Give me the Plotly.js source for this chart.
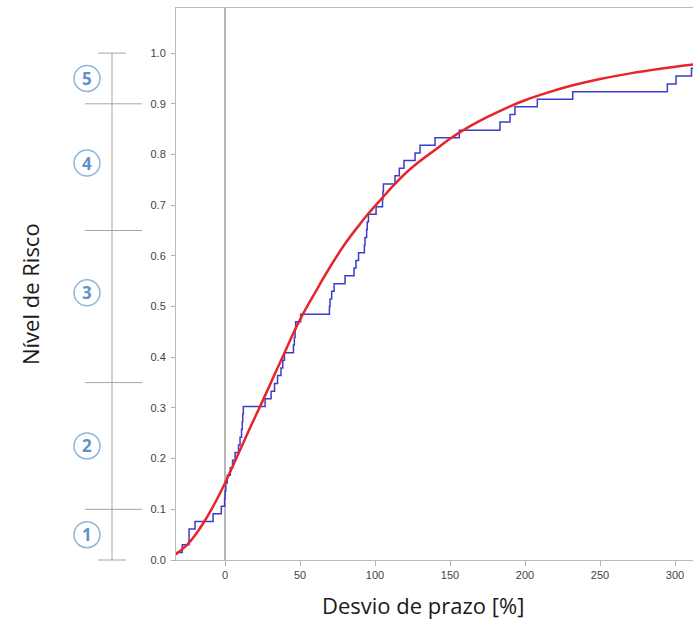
<!DOCTYPE html>
<html>
<head>
<meta charset="utf-8">
<script src="https://cdn.plot.ly/plotly-3.0.1.min.js"></script>
<style>
  html, body { margin: 0; padding: 0; background: #fff; }
  #chart { width: 693px; height: 622px; }
</style>
</head>
<body>
<div id="chart"></div>
<script>
// Empirical cumulative distribution of schedule deviation (step points: x where the level jumps, level after jump)
const ecdfX = [-33, -28.5, -24, -20, -8, -2.5, -0.3, 0, 0.5, 1.5, 3.5, 5, 6.7, 9, 10, 11, 11.5, 11.8, 12.2,
  26.7, 30.7, 33, 35, 37.3, 38.5, 39.6, 45.6, 46.2, 46.7, 47.1, 50.4,
  69.6, 70, 71.1, 72.7, 80, 86, 87.3, 89, 92.9, 93.3, 94.4, 94.8, 95.6, 100.7,
  105, 105.3, 105.6, 113.3, 116.2, 119.3, 126.7, 130, 140, 156.2, 183.3, 190, 193.3,
  208.2, 231.8, 294.9, 300.7, 311, 313];
const ecdfY = [0.015, 0.030, 0.061, 0.076, 0.091, 0.106, 0.121, 0.136, 0.152, 0.167, 0.182, 0.197, 0.212, 0.227, 0.242, 0.258, 0.273, 0.288, 0.303,
  0.318, 0.333, 0.348, 0.364, 0.379, 0.394, 0.409, 0.424, 0.439, 0.455, 0.470, 0.485,
  0.500, 0.515, 0.530, 0.545, 0.561, 0.576, 0.591, 0.606, 0.621, 0.636, 0.652, 0.667, 0.682, 0.697,
  0.712, 0.727, 0.742, 0.758, 0.773, 0.788, 0.803, 0.818, 0.833, 0.848, 0.864, 0.879, 0.894,
  0.909, 0.924, 0.939, 0.955, 0.970, 0.970];

// Fitted distribution curve
const fitX = [-33, -25, -20, -14, -7, 0, 5, 10, 17, 24, 30, 35, 40, 45, 51, 58, 63, 70, 80, 90, 96, 105, 112, 120,
  130, 140, 150, 160, 175, 190, 200, 215, 230, 250, 272, 290, 313];
const fitY = [0.011, 0.031, 0.049, 0.075, 0.111, 0.152, 0.184, 0.217, 0.263, 0.307, 0.346, 0.379, 0.411, 0.444, 0.480, 0.517, 0.543, 0.578, 0.624, 0.663, 0.685, 0.715, 0.738, 0.762,
  0.787, 0.809, 0.831, 0.850, 0.874, 0.895, 0.907, 0.922, 0.935, 0.949, 0.961, 0.969, 0.978];

// Risk level bands on the probability scale
const riskBounds = [0.0, 0.1, 0.35, 0.65, 0.9, 1.0];
const riskLabels = ['1', '2', '3', '4', '5'];
const riskLabelY = [0.05, 0.225, 0.527, 0.783, 0.95];

const yTicks = [0, 0.1, 0.2, 0.3, 0.4, 0.5, 0.6, 0.7, 0.8, 0.9, 1.0];
const xTicks = [0, 50, 100, 150, 200, 250, 300];

const W = 693, H = 622;
const M = { l: 176, r: 0, t: 8, b: 62 };
const plotW = W - M.l - M.r;
const plotH = H - M.t - M.b;
const yRange = [0, 1.089];
const xRange = [-32.7, 312];

// helpers: pixel column -> paper x, probability -> paper y, pixel row -> paper y
const px = p => (p - M.l) / plotW;
const py = v => (v - yRange[0]) / (yRange[1] - yRange[0]);
const pr = r => (H - M.b - r) / plotH;

const shapes = [];
const annotations = [];
const scaleColor = '#a6a6a6';

// vertical spine of the risk scale
shapes.push({ type: 'line', xref: 'paper', yref: 'paper', x0: px(112), x1: px(112),
  y0: py(riskBounds[0]), y1: py(riskBounds[riskBounds.length - 1]),
  line: { color: scaleColor, width: 1 } });
// band boundaries
riskBounds.forEach((b, i) => {
  const outer = (i === 0 || i === riskBounds.length - 1);
  const a = outer ? 98 : 85, c = outer ? 126 : 142;
  shapes.push({ type: 'line', xref: 'paper', yref: 'paper', x0: px(a), x1: px(c),
    y0: py(b), y1: py(b), line: { color: scaleColor, width: 1 } });
});
// circled level numbers
riskLabels.forEach((t, i) => {
  shapes.push({ type: 'circle', xref: 'paper', yref: 'paper',
    xsizemode: 'pixel', ysizemode: 'pixel', xanchor: px(87), yanchor: py(riskLabelY[i]),
    x0: -13, x1: 13, y0: -13, y1: 13,
    line: { color: '#8db6dc', width: 1.5 }, fillcolor: 'rgba(0,0,0,0)' });
  annotations.push({ xref: 'paper', yref: 'paper', x: px(87), y: py(riskLabelY[i]),
    text: '<b>' + t + '</b>', showarrow: false, xanchor: 'center', yanchor: 'middle',
    font: { family: 'Open Sans, Arial, sans-serif', size: 17, color: '#5f93c6' } });
});

// axis titles
annotations.push({ xref: 'paper', yref: 'paper', x: px(30), y: pr(294),
  text: 'Nível de Risco', textangle: -90, showarrow: false, xanchor: 'center', yanchor: 'middle',
  font: { family: 'Open Sans, sans-serif', size: 22, color: '#1a1a1a' } });
annotations.push({ xref: 'paper', yref: 'paper', x: px(423), y: pr(605),
  text: 'Desvio de prazo [%]', showarrow: false, xanchor: 'center', yanchor: 'middle',
  borderpad: 0,
  font: { family: 'Open Sans, sans-serif', size: 22, color: '#1a1a1a' } });

const traces = [
  { x: ecdfX, y: ecdfY, type: 'scatter', mode: 'lines',
    line: { shape: 'hv', color: '#3c3cc8', width: 1.5 }, hoverinfo: 'skip' },
  { x: fitX, y: fitY, type: 'scatter', mode: 'lines',
    line: { shape: 'spline', smoothing: 1, color: '#e8242c', width: 2.5 }, hoverinfo: 'skip' }
];

const tickFont = { family: 'Arial, Liberation Sans, sans-serif', size: 11, color: '#444' };

const layout = {
  width: W, height: H,
  margin: M,
  paper_bgcolor: '#fff', plot_bgcolor: '#fff',
  showlegend: false,
  xaxis: {
    range: xRange, tickvals: xTicks, ticktext: xTicks.map(String),
    ticks: 'outside', ticklen: 5, tickcolor: '#b0b0b0', tickfont: tickFont,
    showline: true, linecolor: '#bbbbbb', linewidth: 1, mirror: true,
    showgrid: false, zeroline: true, zerolinecolor: '#b8b8b8', zerolinewidth: 1.5,
    fixedrange: true
  },
  yaxis: {
    range: yRange, tickvals: yTicks, ticktext: yTicks.map(v => v.toFixed(1)),
    ticks: 'outside', ticklen: 4, tickcolor: '#b0b0b0', tickfont: tickFont,
    ticklabelstandoff: 3,
    showline: true, linecolor: '#bbbbbb', linewidth: 1,
    showgrid: false, zeroline: false, fixedrange: true
  },
  shapes: shapes,
  annotations: annotations
};

Plotly.newPlot('chart', traces, layout, { displayModeBar: false, staticPlot: true });
</script>
</body>
</html>
